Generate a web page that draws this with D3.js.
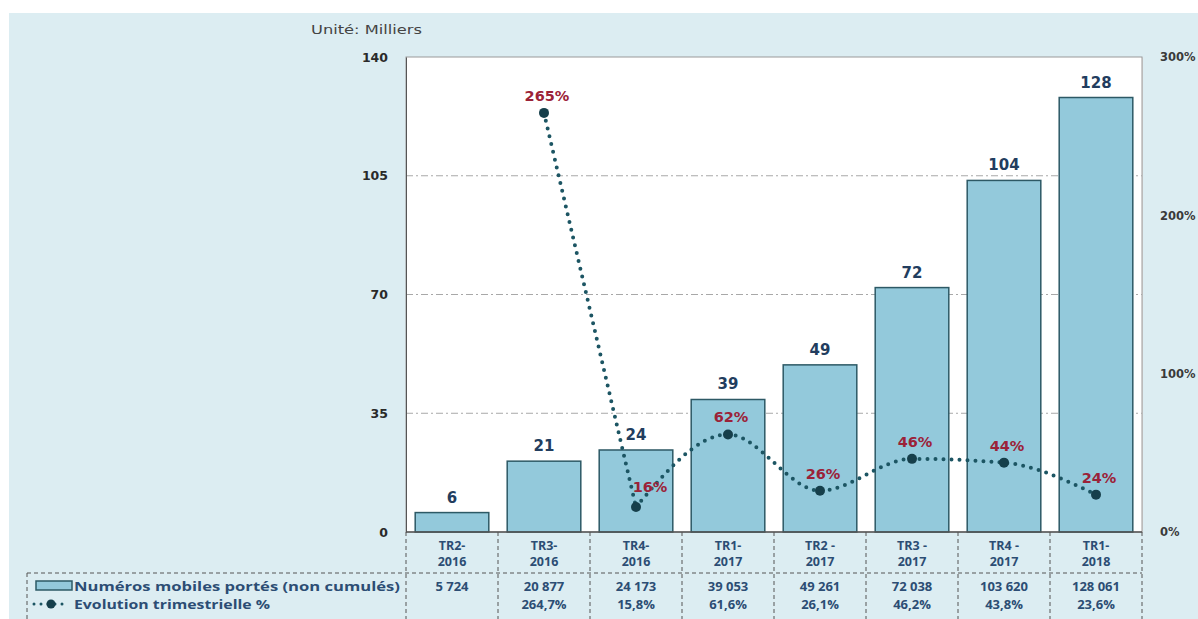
<!DOCTYPE html>
<html><head><meta charset="utf-8">
<script src="https://cdn.jsdelivr.net/npm/d3@7/dist/d3.min.js"></script>
<style>
html,body{margin:0;padding:0;background:#fff;}
svg{display:block;}
text{font-family:"DejaVu Sans",sans-serif;}
.tb{font-family:"Open Sans",sans-serif;}
</style></head>
<body>
<svg id="chart" width="1198" height="619"></svg>
<script>
// ---- data ----
const categories = ["TR2-\n2016","TR3-\n2016","TR4-\n2016","TR1-\n2017","TR2 -\n2017","TR3 -\n2017","TR4 -\n2017","TR1-\n2018"];
const portedNumbers = [5724, 20877, 24173, 39053, 49261, 72038, 103620, 128061];
const quarterlyGrowth = [null, 264.7, 15.8, 61.6, 26.1, 46.2, 43.8, 23.6];
const leftTicks = [0, 35, 70, 105, 140];
const rightTicks = [0, 100, 200, 300];
const seriesNames = ["Numéros mobiles portés (non cumulés)", "Evolution trimestrielle %"];
const unitLabel = "Unité: Milliers";

// ---- layout ----
const svg = d3.select("#chart");
const L = 406, R = 1142, T = 57, B = 532;
const navy = "#223d5e", tableBlue = "#2c4d74", red = "#9b2238", teal = "#1c5563";

svg.append("rect").attr("x",9).attr("y",13).attr("width",1189).attr("height",606).attr("fill","#dcedf2");
svg.append("rect").attr("x",L).attr("y",T).attr("width",R-L).attr("height",B-T).attr("fill","#fff").attr("stroke","#9a9a9a");

const x = d3.scaleBand().domain(categories).range([L,R]).paddingInner(0.2).paddingOuter(0.1);
const y = d3.scaleLinear().domain([0,140]).range([B,T]);
const y2 = d3.scaleLinear().domain([0,300]).range([B,T]);
const step = x.step();
const bx = i => L + step*i;
const cx = i => x(categories[i]) + x.bandwidth()/2;

// gridlines
svg.append("g").selectAll("line").data(leftTicks.filter(d=>d>0 && d<140)).join("line")
  .attr("x1",L).attr("x2",R).attr("y1",d=>y(d)).attr("y2",d=>y(d))
  .attr("stroke","#a8a8a8").attr("stroke-dasharray","7,3,2,3");

// left axis
const ga = svg.append("g").attr("transform",`translate(${L},0)`)
  .call(d3.axisLeft(y).tickValues(leftTicks).tickSize(0).tickPadding(18));
ga.select(".domain").attr("stroke","#555");
ga.selectAll("text").attr("font-size",12.5).attr("font-weight","bold").attr("fill","#2a2a2a");

// right axis
const gr = svg.append("g").attr("transform",`translate(${R},0)`)
  .call(d3.axisRight(y2).tickValues(rightTicks).tickSize(0).tickPadding(18).tickFormat(d=>d+"%"));
gr.select(".domain").attr("stroke","#bbb");
gr.selectAll("text").attr("font-size",11.5).attr("font-weight","bold").attr("fill","#3a3a3a");

// unit label
svg.append("text").attr("x",311).attr("y",34).attr("font-size",11.5).attr("fill","#444")
  .attr("textLength",111).attr("lengthAdjust","spacingAndGlyphs").text(unitLabel);

// bars
svg.append("g").selectAll("rect").data(portedNumbers).join("rect")
  .attr("x",(d,i)=>x(categories[i])).attr("width",x.bandwidth())
  .attr("y",d=>y(d/1000)).attr("height",d=>B-y(d/1000))
  .attr("fill","#93c9db").attr("stroke","#2d5965").attr("stroke-width",1.5);

svg.append("g").selectAll("text").data(portedNumbers).join("text")
  .attr("x",(d,i)=>cx(i)).attr("y",d=>y(d/1000)-10)
  .attr("text-anchor","middle").attr("font-size",15).attr("font-weight","bold").attr("fill",navy)
  .text(d=>Math.round(d/1000));

// bottom axis line
svg.append("line").attr("x1",L).attr("x2",R).attr("y1",B).attr("y2",B).attr("stroke","#555").attr("stroke-width",1.5);

// growth line: steep first drop drawn straight, remaining points smoothed
const pts = quarterlyGrowth.map((v,i)=>({v,i})).filter(d=>d.v!==null);
const lineStraight = d3.line().x(d=>cx(d.i)).y(d=>y2(d.v));
const lineSmooth = d3.line().x(d=>cx(d.i)).y(d=>y2(d.v)).curve(d3.curveMonotoneX);
const dotted = p => p.attr("fill","none").attr("stroke",teal)
  .attr("stroke-width",4).attr("stroke-linecap","round").attr("stroke-dasharray","0,8");
svg.append("path").attr("d",lineStraight(pts.slice(0,2))).call(dotted);
svg.append("path").attr("d",lineSmooth(pts.slice(1))).call(dotted);
svg.append("g").selectAll("circle").data(pts).join("circle")
  .attr("cx",d=>cx(d.i)).attr("cy",d=>y2(d.v)).attr("r",5).attr("fill","#163f4b");
svg.append("g").selectAll("text").data(pts).join("text")
  .attr("x",d=>cx(d.i) + (d.i===2?14:3)).attr("y",d=>y2(d.v)-12 + (d.i===2?-3:0))
  .attr("text-anchor","middle").attr("font-size",14.5).attr("font-weight","bold").attr("fill",red)
  .text(d=>Math.round(d.v)+"%");

// ---- data table ----
const tbl = svg.append("g");
const dashC = "#555", dashA = "4,3";
for (let i=0;i<=categories.length;i++){
  tbl.append("line").attr("x1",bx(i)).attr("x2",bx(i)).attr("y1",B).attr("y2",619)
    .attr("stroke",dashC).attr("stroke-dasharray",dashA);
}
tbl.append("line").attr("x1",27).attr("x2",R).attr("y1",573).attr("y2",573).attr("stroke",dashC).attr("stroke-dasharray",dashA);
tbl.append("line").attr("x1",27).attr("x2",27).attr("y1",573).attr("y2",619).attr("stroke",dashC).attr("stroke-dasharray",dashA);

// category labels (two separate lines)
const catLines = tbl.append("g");
categories.forEach((d,i)=>{
  d.split("\n").forEach((p,k)=>{
    catLines.append("text").attr("class","tb").attr("text-anchor","middle")
      .attr("x",bx(i)+step/2).attr("y",550+k*16)
      .attr("font-size",12.5).attr("font-weight","700").attr("fill",tableBlue).text(p);
  });
});

const fmtNum = d3.formatLocale({decimal:",",thousands:" ",grouping:[3],currency:["","€"]}).format(",d");
tbl.append("g").selectAll("text").data(portedNumbers).join("text").attr("class","tb")
  .attr("x",(d,i)=>bx(i)+step/2).attr("y",591).attr("text-anchor","middle")
  .attr("font-size",13).attr("font-weight","700").attr("fill",tableBlue).text(d=>fmtNum(d));
tbl.append("g").selectAll("text").data(quarterlyGrowth).join("text").attr("class","tb")
  .attr("x",(d,i)=>bx(i)+step/2).attr("y",609).attr("text-anchor","middle")
  .attr("font-size",13).attr("font-weight","700").attr("fill",tableBlue)
  .text(d=>d===null?"":d.toFixed(1).replace(".",",")+"%");

// legend
tbl.append("rect").attr("x",36).attr("y",581).attr("width",36).attr("height",9)
  .attr("fill","#93c9db").attr("stroke","#2d5965").attr("stroke-width",1.5);
tbl.append("text").attr("class","tb").attr("x",74).attr("y",591).attr("font-size",13).attr("font-weight","700").attr("fill",tableBlue)
  .attr("textLength",326).attr("lengthAdjust","spacingAndGlyphs").text(seriesNames[0]);
tbl.append("line").attr("x1",34).attr("x2",68).attr("y1",604).attr("y2",604).attr("stroke",teal)
  .attr("stroke-width",3).attr("stroke-linecap","round").attr("stroke-dasharray","0,7");
tbl.append("circle").attr("cx",51).attr("cy",604).attr("r",4.5).attr("fill","#163f4b");
tbl.append("text").attr("class","tb").attr("x",74).attr("y",609).attr("font-size",13).attr("font-weight","700").attr("fill",tableBlue)
  .attr("textLength",196).attr("lengthAdjust","spacingAndGlyphs").text(seriesNames[1]);
</script>
</body></html>
